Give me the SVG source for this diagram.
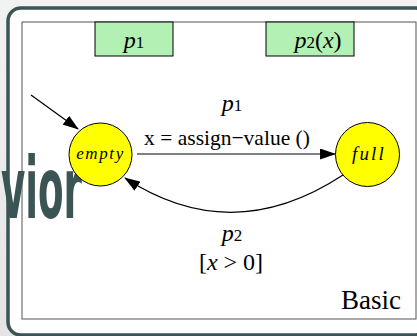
<svg xmlns="http://www.w3.org/2000/svg" width="417" height="336" viewBox="0 0 417 336">
<defs>
<style>
.serif{font-family:"Liberation Serif","Times New Roman",serif;fill:#000}
.it{font-style:italic}
.box{fill:#b3f0b3;stroke:#000;stroke-width:1}
.state{fill:#ffff00;stroke:#000;stroke-width:1}
.edge{fill:none;stroke:#000;stroke-width:1.2}
</style>
<marker id="ah" markerWidth="16" markerHeight="11" refX="15" refY="5.5" orient="auto" markerUnits="userSpaceOnUse">
<path d="M0,0 L16,5.5 L0,11 Z" fill="#000"/>
</marker>
<linearGradient id="bg" x1="0" y1="0" x2="0" y2="1">
<stop offset="0" stop-color="#f2f2f2"/>
<stop offset="1" stop-color="#e4e4e4"/>
</linearGradient>
</defs>
<rect x="0" y="0" width="417" height="336" fill="url(#bg)"/>
<rect x="8" y="8" width="420" height="327" rx="13" ry="13" fill="#ffffff" stroke="#3b5555" stroke-width="3.5"/>
<text x="1" y="218" font-family="'Liberation Sans Narrow','DejaVu Sans Condensed',sans-serif" font-weight="bold" font-size="86" fill="#3b5555" textLength="81" lengthAdjust="spacingAndGlyphs">vior</text>
<rect x="22" y="22" width="394" height="297" fill="none" stroke="#555" stroke-width="1"/>
<g id="box-p1">
<rect class="box" x="95" y="22" width="78" height="34"/>
<text class="serif" x="134" y="48" text-anchor="middle" font-size="24"><tspan class="it">p</tspan><tspan font-size="17">1</tspan></text>
</g>
<g id="box-p2x">
<rect class="box" x="266" y="22" width="88" height="34"/>
<text class="serif" x="318" y="48" text-anchor="middle" font-size="24"><tspan class="it">p</tspan><tspan font-size="17">2</tspan>(<tspan class="it">x</tspan>)</text>
</g>
<g id="connectors">
<line class="edge" x1="31" y1="95" x2="78" y2="129" marker-end="url(#ah)"/>
<line class="edge" x1="137" y1="154" x2="335" y2="154" marker-end="url(#ah)"/>
<path class="edge" d="M343,175 Q232,248 125,178" marker-end="url(#ah)"/>
<text class="serif" x="232" y="111" text-anchor="middle" font-size="24"><tspan class="it">p</tspan><tspan font-size="17">1</tspan></text>
<text class="serif" x="227" y="145" text-anchor="middle" font-size="21.5">x = assign−value ()</text>
<text class="serif" x="232" y="241" text-anchor="middle" font-size="24"><tspan class="it">p</tspan><tspan font-size="17">2</tspan></text>
<text class="serif" x="231" y="270" text-anchor="middle" font-size="24">[<tspan class="it">x</tspan> &gt; 0]</text>
</g>
<g id="empty">
<circle class="state" cx="100.5" cy="154.5" r="31.5"/>
<text class="serif it" x="100.5" y="159" text-anchor="middle" font-size="17" letter-spacing="1.6">empty</text>
</g>
<g id="full">
<circle class="state" cx="367.5" cy="154.5" r="32"/>
<text class="serif it" x="369" y="160" text-anchor="middle" font-size="19" letter-spacing="2.2">full</text>
</g>
<text class="serif" x="401" y="309" text-anchor="end" font-size="27">Basic</text>
</svg>
